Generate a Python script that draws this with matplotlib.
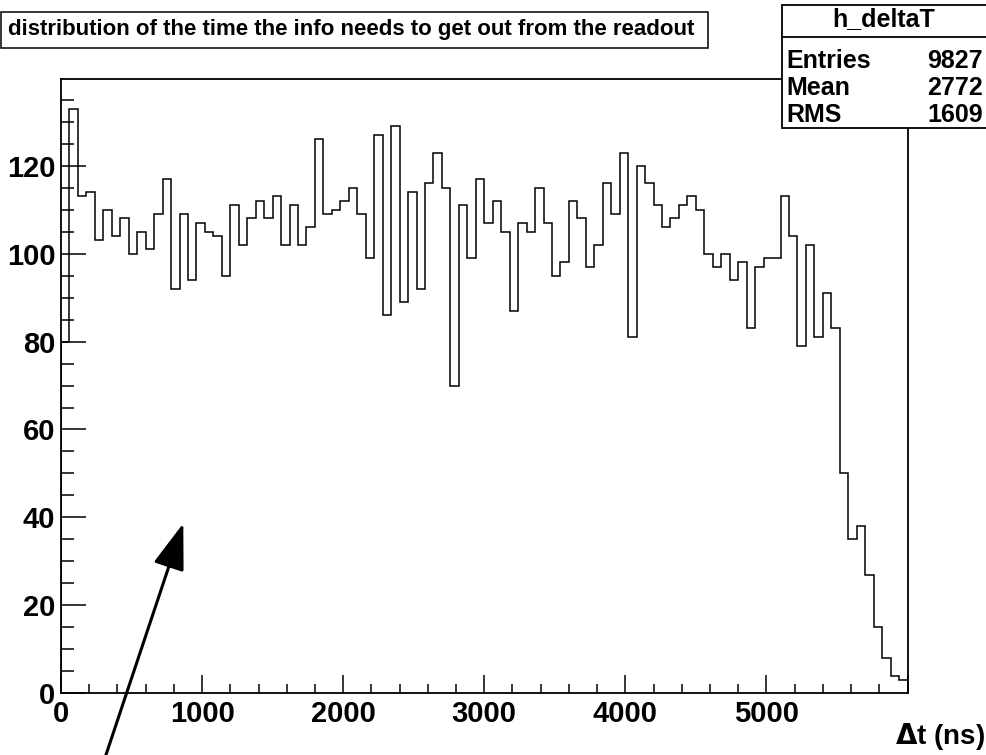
import numpy as np
import matplotlib
matplotlib.use("Agg")
import matplotlib.pyplot as plt
from matplotlib.patches import Rectangle, FancyArrowPatch
from matplotlib.ticker import MultipleLocator, FixedFormatter, FixedLocator
from matplotlib.transforms import IdentityTransform

plt.rcParams['font.family'] = ['Liberation Sans', 'DejaVu Sans']
plt.rcParams['font.weight'] = 'bold'

# h_deltaT: 100 bins of 60 ns between 0 and 6000 ns
t_min, t_max, n_bins = 0, 6000, 100
counts = [80, 133, 113, 114, 103, 110, 104, 108, 100, 105,
          101, 109, 117, 92, 109, 94, 107, 105, 104, 95,
          111, 102, 108, 112, 108, 113, 102, 111, 102, 106,
          126, 109, 110, 112, 115, 109, 99, 127, 86, 129,
          89, 114, 92, 116, 123, 115, 70, 111, 99, 117,
          107, 112, 105, 87, 107, 105, 115, 107, 95, 98,
          112, 108, 97, 102, 116, 109, 123, 81, 120, 116,
          111, 106, 108, 111, 113, 110, 100, 97, 100, 94,
          98, 83, 97, 99, 99, 113, 104, 79, 102, 81,
          91, 83, 50, 35, 38, 27, 15, 8, 4, 3]
x_ticks = [0, 1000, 2000, 3000, 4000, 5000]
stat_names = ["Entries", "Mean", "RMS"]
stat_values = ["9827", "2772", "1609"]
hist_name = "h_deltaT"
title = "distribution of the time the info needs to get out from the readout"
x_label = r"$\Delta$t (ns)"

W, H = 986, 755
fig = plt.figure(figsize=(W / 100, H / 100), dpi=100)
ax = fig.add_axes([61 / W, 1 - 693.3 / H, (907.5 - 61) / W, (693.3 - 79.3) / H])

edges = np.linspace(t_min, t_max, n_bins + 1)
ax.stairs(counts, edges, color='black', linewidth=1.1, baseline=0)

ax.set_xlim(t_min, t_max)
ax.set_ylim(0, max(counts) * 1.05)

# no label on the last major tick, like ROOT does
ax.xaxis.set_major_locator(FixedLocator(x_ticks + [t_max]))
ax.xaxis.set_major_formatter(FixedFormatter([str(v) for v in x_ticks] + [""]))
ax.xaxis.set_minor_locator(MultipleLocator(200))
ax.yaxis.set_major_locator(MultipleLocator(20))
ax.yaxis.set_minor_locator(MultipleLocator(5))
ax.tick_params(axis='both', which='both', direction='in', top=False, right=False,
               width=1.1, labelsize=21)
ax.tick_params(axis='x', which='major', length=13, pad=5)
ax.tick_params(axis='x', which='minor', length=6.5)
ax.tick_params(axis='y', which='major', length=18, pad=4)
ax.tick_params(axis='y', which='minor', length=9)
for lbl in ax.get_xticklabels() + ax.get_yticklabels():
    lbl.set_fontweight('bold')
for sp in ax.spines.values():
    sp.set_linewidth(1.3)

# x axis title, bottom right
fig.text(985 / W, 1 - 737 / H, x_label, ha='right', va='center',
         fontsize=20, fontweight='bold')

# title box
fig.add_artist(Rectangle((1 / W, 1 - 48 / H), 707 / W, 36 / H,
                         transform=fig.transFigure, fill=False,
                         edgecolor='black', linewidth=1.1))
fig.text(8 / W, 1 - 30 / H, title, ha='left', va='center',
         fontsize=16, fontweight='bold')

# stats box
bx0, by_top, by_sep, by_bot = 781.7, 5, 36.7, 127.7
fig.add_artist(Rectangle((bx0 / W, 1 - by_bot / H), (W + 5 - bx0) / W,
                         (by_bot - by_top) / H, transform=fig.transFigure,
                         facecolor='white', edgecolor='black', linewidth=1.3,
                         clip_on=False, zorder=5))
fig.add_artist(plt.Line2D([bx0 / W, 1], [1 - by_sep / H, 1 - by_sep / H],
                          transform=fig.transFigure, color='black',
                          linewidth=1.3, zorder=6))
fig.text((bx0 + W) / 2 / W, 1 - 19 / H, hist_name, ha='center', va='center',
         fontsize=18, fontweight='bold', zorder=7)
row_y = [61, 88, 115]
for name, val, yy in zip(stat_names, stat_values, row_y):
    fig.text(786 / W, 1 - yy / H, name, ha='left', va='center',
             fontsize=18, fontweight='bold', zorder=7)
    fig.text(983 / W, 1 - yy / H, val, ha='right', va='center',
             fontsize=18, fontweight='bold', zorder=7)

# arrow pointing into the plot (pixel coordinates)
arrow = FancyArrowPatch((100.9, -15), (183.3, H - 523.3),
                        transform=IdentityTransform(),
                        arrowstyle='-|>,head_length=1.44,head_width=0.49',
                        mutation_scale=20, color='black', linewidth=2.2,
                        shrinkA=0, shrinkB=0)
fig.add_artist(arrow)

fig.savefig("out.png", dpi=100)
